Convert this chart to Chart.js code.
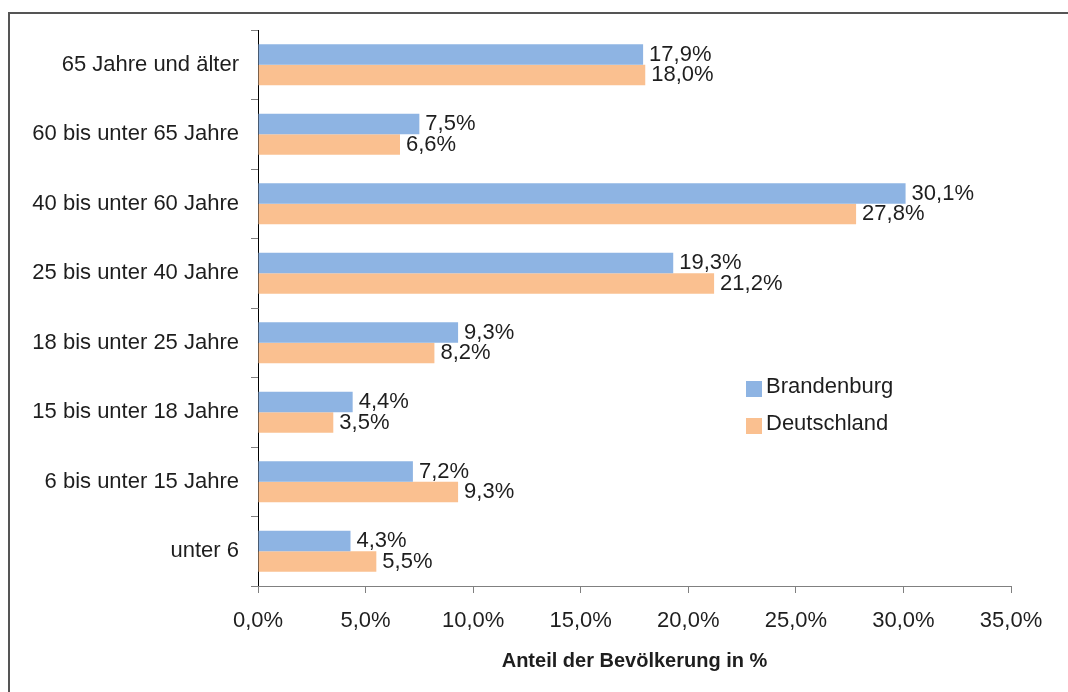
<!DOCTYPE html>
<html>
<head>
<meta charset="utf-8">
<script src="https://cdn.jsdelivr.net/npm/chart.js@4/dist/chart.umd.min.js"></script>
<style>
body{margin:0;background:#fff;}
#wrap{position:relative;width:1068px;height:692px;overflow:hidden;}
#frame{position:absolute;left:8px;top:12px;width:1100px;height:700px;border-top:2px solid #555;border-left:2px solid #555;}
canvas{position:absolute;left:0;top:0;}
</style>
</head>
<body>
<div id="wrap">
<div id="frame"></div>
<canvas id="chart" width="1068" height="692"></canvas>
</div>
<script>
const categories=['65 Jahre und älter','60 bis unter 65 Jahre','40 bis unter 60 Jahre','25 bis unter 40 Jahre','18 bis unter 25 Jahre','15 bis unter 18 Jahre','6 bis unter 15 Jahre','unter 6'];
const brandenburg=[17.9,7.5,30.1,19.3,9.3,4.4,7.2,4.3];
const deutschland=[18.0,6.6,27.8,21.2,8.2,3.5,9.3,5.5];
const seriesNames=['Brandenburg','Deutschland'];
const xMin=0,xMax=35,xStep=5;

const FONT='"Liberation Sans", Arial, sans-serif';
const TEXT='#1e1e1e';

function fmt(v,d){
  return v.toFixed(d).replace('.',',')+'%';
}

// value labels to the right of each bar
const barLabels={
  id:'barLabels',
  afterDatasetsDraw(chart){
    const ctx=chart.ctx;
    ctx.save();
    ctx.font='22px '+FONT;
    ctx.fillStyle=TEXT;
    ctx.textAlign='left';
    ctx.textBaseline='middle';
    chart.data.datasets.forEach((ds,i)=>{
      chart.getDatasetMeta(i).data.forEach((bar,j)=>{
        ctx.fillText(fmt(ds.data[j],1),bar.x+6,bar.y);
      });
    });
    ctx.restore();
  }
};

// legend inside the plot, right side
const boxLegend={
  id:'boxLegend',
  afterDraw(chart){
    const ctx=chart.ctx;
    ctx.save();
    ctx.font='22px '+FONT;
    ctx.textBaseline='middle';
    ctx.textAlign='left';
    chart.data.datasets.forEach((ds,i)=>{
      let y=381+i*37;
      ctx.fillStyle=ds.backgroundColor;
      ctx.fillRect(746,y,16,16);
      ctx.fillStyle=TEXT;
      ctx.fillText(ds.label,766,y+6);
    });
    ctx.restore();
  }
};

new Chart(document.getElementById('chart'),{
  type:'bar',
  data:{
    labels:categories,
    datasets:[
      {label:seriesNames[0],data:brandenburg,backgroundColor:'#8EB4E3',categoryPercentage:0.59,barPercentage:1.0},
      {label:seriesNames[1],data:deutschland,backgroundColor:'#FAC090',categoryPercentage:0.59,barPercentage:1.0}
    ]
  },
  options:{
    indexAxis:'y',
    responsive:false,
    animation:false,
    layout:{padding:{top:30,right:57,bottom:0,left:0}},
    plugins:{legend:{display:false},tooltip:{enabled:false}},
    scales:{
      y:{
        grid:{drawOnChartArea:false,tickLength:7,color:'#808080',offset:true},
        border:{color:'#000',width:1},
        ticks:{font:{family:FONT,size:22},color:TEXT,padding:12},
        afterFit(s){s.width=258;}
      },
      x:{
        min:xMin,max:xMax,
        grid:{drawOnChartArea:false,tickLength:7,color:'#808080'},
        border:{color:'#808080',width:1},
        ticks:{stepSize:xStep,font:{family:FONT,size:22},color:TEXT,padding:15,callback:v=>fmt(v,1)},
        title:{display:true,text:'Anteil der Bevölkerung in %',font:{family:FONT,size:20,weight:'bold'},color:TEXT,padding:{top:0,bottom:19}},
        afterFit(s){s.height=106;}
      }
    }
  },
  plugins:[barLabels,boxLegend]
});
</script>
</body>
</html>
